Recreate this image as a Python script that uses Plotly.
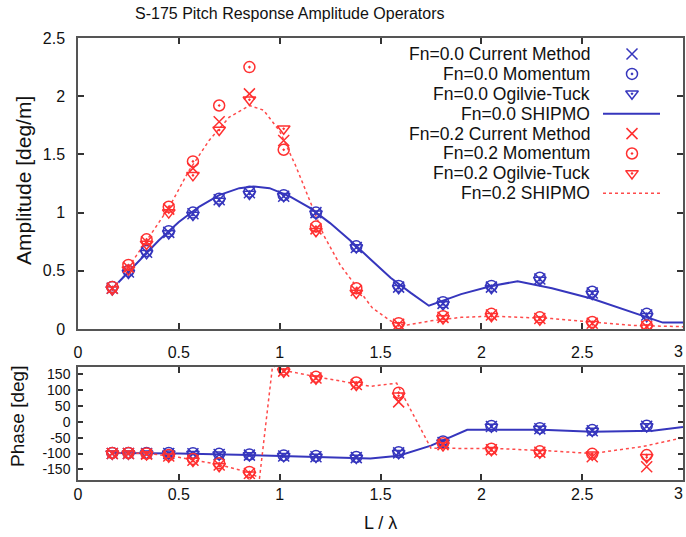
import plotly.graph_objects as go

# ---------------- data ----------------
lam = [0.17, 0.25, 0.34, 0.45, 0.57, 0.70, 0.85, 1.02, 1.18, 1.38,
       1.59, 1.81, 2.05, 2.29, 2.55, 2.82]

# pitch amplitude [deg/m]
amp0_cur = [0.35, 0.49, 0.66, 0.83, 0.99, 1.11, 1.17, 1.14, 1.00, 0.70, 0.36, 0.22, 0.36, 0.43, 0.31, 0.12]
amp0_mom = [0.36, 0.50, 0.67, 0.84, 1.00, 1.12, 1.18, 1.15, 1.00, 0.71, 0.37, 0.23, 0.37, 0.44, 0.32, 0.13]
amp0_ot = [0.34, 0.48, 0.65, 0.82, 0.98, 1.10, 1.16, 1.14, 0.99, 0.70, 0.35, 0.21, 0.35, 0.42, 0.30, 0.11]
amp2_cur = [0.35, 0.53, 0.75, 1.03, 1.38, 1.78, 2.02, 1.62, 0.86, 0.33, 0.04, 0.10, 0.12, 0.09, 0.05, 0.02]
amp2_mom = [0.36, 0.55, 0.77, 1.05, 1.44, 1.92, 2.25, 1.54, 0.88, 0.35, 0.05, 0.11, 0.13, 0.10, 0.06, 0.03]
amp2_ot = [0.34, 0.51, 0.73, 1.00, 1.32, 1.71, 1.97, 1.72, 0.84, 0.31, 0.03, 0.09, 0.11, 0.08, 0.04, 0.01]

# pitch phase [deg]
ph0_cur = [-100, -100, -100, -100, -101, -103, -105, -108, -110, -113, -98, -65, -15, -22, -28, -14]
ph0_mom = [-98, -98, -98, -98, -99, -101, -103, -106, -108, -111, -96, -62, -13, -20, -26, -12]
ph0_ot = [-101, -101, -101, -101, -102, -104, -106, -109, -111, -114, -99, -66, -16, -23, -29, -15]
ph2_cur = [-100, -100, -102, -108, -121, -136, -163, 160, 138, 118, 63, -72, -88, -96, -110, -142]
ph2_mom = [-98, -98, -100, -105, -117, -131, -158, 165, 142, 124, 92, -68, -85, -93, -101, -105]
ph2_ot = [-101, -101, -103, -110, -124, -140, -167, 158, 136, 116, 82, -75, -90, -98, -104, -112]

# SHIPMO strip-theory curves
ship0_x = [0.20, 0.30, 0.40, 0.50, 0.60, 0.70, 0.80, 0.87, 0.95, 1.05, 1.15, 1.25, 1.35,
           1.45, 1.55, 1.65, 1.74, 1.90, 2.05, 2.18, 2.35, 2.55, 2.75, 2.90, 3.00]
ship0_amp = [0.40, 0.58, 0.76, 0.92, 1.05, 1.15, 1.21, 1.225, 1.21, 1.14, 1.04, 0.91, 0.76,
             0.60, 0.44, 0.31, 0.20, 0.30, 0.37, 0.41, 0.35, 0.26, 0.14, 0.055, 0.055]
ship2_x = [0.25, 0.35, 0.45, 0.55, 0.65, 0.75, 0.85, 0.92, 1.00, 1.08, 1.15, 1.22, 1.30,
           1.38, 1.46, 1.55, 1.62, 1.75, 1.90, 2.05, 2.20, 2.35, 2.55, 2.75, 3.00]
ship2_amp = [0.53, 0.78, 1.04, 1.36, 1.62, 1.82, 1.92, 1.88, 1.70, 1.40, 1.10, 0.80, 0.55,
             0.36, 0.18, 0.07, 0.03, 0.07, 0.10, 0.11, 0.10, 0.09, 0.06, 0.03, 0.02]

ship0_phx = [0.17, 0.50, 0.85, 1.20, 1.45, 1.59, 1.75, 1.93, 2.30, 2.55, 2.85, 3.00]
ship0_ph = [-98, -100, -105, -112, -116, -107, -75, -25, -25, -31, -28, -16]
ship2_phx = [0.17, 0.35, 0.50, 0.70, 0.85, 0.90, 0.965, 1.00, 1.20, 1.38, 1.45, 1.58,
             1.75, 2.10, 2.35, 2.55, 2.80, 3.00]
ship2_ph = [-98, -100, -112, -135, -160, -178, 178, 165, 140, 120, 112, 122,
            -83, -85, -92, -100, -78, -50]

x_ticks = [0, 0.5, 1, 1.5, 2, 2.5, 3]
phase_ticks = [150, 100, 50, 0, -50, -100, -150]
legend_labels = ["Fn=0.0 Current Method", "Fn=0.0 Momentum", "Fn=0.0 Ogilvie-Tuck",
                 "Fn=0.0 SHIPMO", "Fn=0.2 Current Method", "Fn=0.2 Momentum",
                 "Fn=0.2 Ogilvie-Tuck", "Fn=0.2 SHIPMO"]

# ---------------- styling ----------------
W, H = 686, 537
BLUE = "#3636bd"
RED = "#ff3030"
RED_LINE = "#ff4a4a"
FONT = "Liberation Sans"
SYMBOLS = ["x-thin-open", "circle-open-dot", "triangle-down-open-dot"]

fig = go.Figure()


def add_markers(x, ys, color, xa, ya):
    for y, sym in zip(ys, SYMBOLS):
        fig.add_trace(go.Scatter(
            x=x, y=y, mode="markers", xaxis=xa, yaxis=ya, showlegend=False,
            marker=dict(symbol=sym, size=11, color=color, line=dict(color=color, width=1.5))))


# amplitude panel
fig.add_trace(go.Scatter(x=ship0_x, y=ship0_amp, mode="lines", xaxis="x", yaxis="y",
                         showlegend=False, line=dict(color=BLUE, width=2)))
fig.add_trace(go.Scatter(x=ship2_x, y=ship2_amp, mode="lines", xaxis="x", yaxis="y",
                         showlegend=False, line=dict(color=RED_LINE, width=1.5, dash="dot")))
add_markers(lam, [amp0_cur, amp0_mom, amp0_ot], BLUE, "x", "y")
add_markers(lam, [amp2_cur, amp2_mom, amp2_ot], RED, "x", "y")

# phase panel
fig.add_trace(go.Scatter(x=ship0_phx, y=ship0_ph, mode="lines", xaxis="x2", yaxis="y2",
                         showlegend=False, line=dict(color=BLUE, width=2)))
fig.add_trace(go.Scatter(x=ship2_phx, y=ship2_ph, mode="lines", xaxis="x2", yaxis="y2",
                         showlegend=False, line=dict(color=RED_LINE, width=1.5, dash="dot")))
add_markers(lam, [ph0_cur, ph0_mom, ph0_ot], BLUE, "x2", "y2")
add_markers(lam, [ph2_cur, ph2_mom, ph2_ot], RED, "x2", "y2")

# legend drawn in a pixel-space overlay (labels right-aligned, keys to their right)
row_y0, row_dy = 54, 19.9
text_right, key_x, line_x0, line_x1 = 592, 632, 603, 660
key_styles = [("m", SYMBOLS[0], BLUE), ("m", SYMBOLS[1], BLUE), ("m", SYMBOLS[2], BLUE),
              ("l", "solid", BLUE),
              ("m", SYMBOLS[0], RED), ("m", SYMBOLS[1], RED), ("m", SYMBOLS[2], RED),
              ("l", "dot", RED_LINE)]
annotations = []
for i, (label, (kind, style, color)) in enumerate(zip(legend_labels, key_styles)):
    ry = row_y0 + i * row_dy
    annotations.append(dict(x=text_right / W, y=1 - ry / H, xref="paper", yref="paper",
                            text=label, showarrow=False, xanchor="right", yanchor="middle",
                            font=dict(family=FONT, size=17.5, color="#111")))
    if kind == "m":
        fig.add_trace(go.Scatter(x=[key_x], y=[ry], mode="markers", xaxis="x3", yaxis="y3",
                                 showlegend=False,
                                 marker=dict(symbol=style, size=11, color=color,
                                             line=dict(color=color, width=1.5))))
    else:
        fig.add_trace(go.Scatter(x=[line_x0, line_x1], y=[ry, ry], mode="lines",
                                 xaxis="x3", yaxis="y3", showlegend=False,
                                 line=dict(color=color, width=2 if style == "solid" else 1.5,
                                           dash=style)))

annotations.append(dict(x=290 / W, y=1 - 14 / H, xref="paper", yref="paper",
                        text="S-175 Pitch Response Amplitude Operators", showarrow=False,
                        xanchor="center", yanchor="middle",
                        font=dict(family=FONT, size=16, color="#111")))
annotations.append(dict(x=23 / W, y=1 - 181 / H, xref="paper", yref="paper",
                        text="Amplitude [deg/m]", showarrow=False, textangle=-90,
                        xanchor="center", yanchor="middle",
                        font=dict(family=FONT, size=21, color="#111")))
annotations.append(dict(x=17 / W, y=1 - 417 / H, xref="paper", yref="paper",
                        text="Phase [deg]", showarrow=False, textangle=-90,
                        xanchor="center", yanchor="middle",
                        font=dict(family=FONT, size=19, color="#111")))
annotations.append(dict(x=380 / W, y=1 - 523 / H, xref="paper", yref="paper",
                        text="L / λ", showarrow=False, xanchor="center", yanchor="middle",
                        font=dict(family=FONT, size=18, color="#111")))
# the last x tick label sits on the page edge; keep it inside the page
for yy in (351, 493):
    annotations.append(dict(x=1, y=1 - yy / H, xref="paper", yref="paper",
                            text="3", showarrow=False, xanchor="right", yanchor="middle",
                            xshift=-1, font=dict(family=FONT, size=16, color="#111")))

x_dom = [78 / W, 683 / W]
axis_common = dict(showline=True, linecolor="#555", linewidth=1.5, mirror="ticks",
                   ticks="inside", ticklen=6, tickcolor="#333", tickwidth=1.5,
                   showgrid=False, zeroline=False, automargin=False,
                   tickfont=dict(family=FONT, size=16, color="#111"))
x_labels = [str(v) if v != 3 else "" for v in x_ticks]

fig.update_layout(
    width=W, height=H, margin=dict(l=0, r=0, t=0, b=0),
    paper_bgcolor="white", plot_bgcolor="rgba(0,0,0,0)",
    annotations=annotations,
    xaxis=dict(domain=x_dom, range=[0, 3], tickvals=x_ticks, ticktext=x_labels,
               anchor="y", ticklabelstandoff=8, **axis_common),
    yaxis=dict(domain=[1 - 329 / H, 1 - 38 / H], range=[0, 2.5], dtick=0.5, anchor="x",
               ticklabelstandoff=8, **axis_common),
    xaxis2=dict(domain=x_dom, range=[0, 3], tickvals=x_ticks, ticktext=x_labels,
                anchor="y2", **axis_common),
    yaxis2=dict(domain=[1 - 479.5 / H, 1 - 367 / H], range=[-182, 173], anchor="x2",
                tickvals=phase_ticks, ticktext=[str(v) for v in phase_ticks],
                ticklabelstandoff=3,
                **{**axis_common, "tickfont": dict(family=FONT, size=14, color="#111"),
                   "ticklen": 5}),
    xaxis3=dict(domain=[0, 1], range=[0, W], visible=False, fixedrange=True, anchor="y3"),
    yaxis3=dict(domain=[0, 1], range=[H, 0], visible=False, fixedrange=True, anchor="x3"),
)

fig.write_html("out.html")
